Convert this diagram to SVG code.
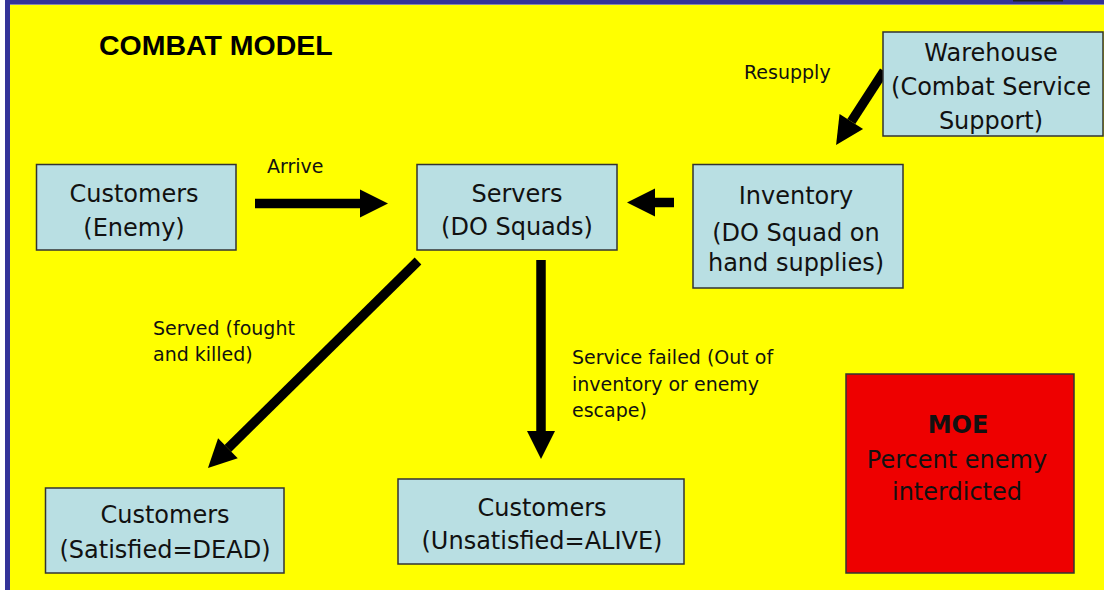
<svg xmlns="http://www.w3.org/2000/svg" width="1104" height="590" viewBox="0 0 1104 590">
  <defs>
    <style>
      .box { fill: #B9DFE3; stroke: #333333; stroke-width: 1.5; }
      .lbl { font-family: "DejaVu Sans", "Liberation Sans", sans-serif; font-size: 24px; fill: #111111; text-anchor: middle; }
      .small { font-family: "DejaVu Sans", "Liberation Sans", sans-serif; font-size: 19px; fill: #111111; }
      .title { font-family: "Liberation Sans", Arial, sans-serif; font-size: 28.5px; font-weight: bold; fill: #000000; }
      .conn { stroke: #000000; stroke-width: 9.5; fill: none; stroke-linecap: butt; marker-end: url(#head); }
    </style>
    <marker id="head" markerUnits="userSpaceOnUse" markerWidth="28" markerHeight="28" refX="0" refY="14" orient="auto" overflow="visible">
      <path d="M0,0 L28,14 L0,28 Z" fill="#000000"/>
    </marker>
  </defs>

  <!-- background and frame -->
  <rect x="0" y="0" width="1104" height="590" fill="#FFFFFF"/>
  <rect x="5" y="0" width="1099" height="590" fill="#FFFF00"/>
  <rect x="5" y="0" width="1099" height="5" fill="#333399"/>
  <rect x="5" y="0" width="5" height="590" fill="#333399"/>
  <rect x="10" y="4" width="1094" height="1" fill="#8888AA"/>
  <rect x="1013" y="0" width="50" height="1.5" fill="#222222"/>

  <text class="title" x="99" y="55">COMBAT MODEL</text>

  <!-- connectors -->
  <g id="connectors">
    <line class="conn" x1="255" y1="203.5" x2="360" y2="203.5"/>
    <line class="conn" x1="674" y1="202.5" x2="655" y2="202.5"/>
    <line class="conn" x1="884" y1="71" x2="851.3" y2="121.5"/>
    <line class="conn" x1="418" y1="261" x2="227.9" y2="448.3"/>
    <line class="conn" x1="541" y1="260" x2="541" y2="431"/>
    <text class="small" x="267" y="173">Arrive</text>
    <text class="small" x="744" y="79">Resupply</text>
    <text class="small" x="153" y="335">Served (fought</text>
    <text class="small" x="153" y="361">and killed)</text>
    <text class="small" x="572" y="364">Service failed (Out of</text>
    <text class="small" x="572" y="391">inventory or enemy</text>
    <text class="small" x="572" y="417">escape)</text>
  </g>

  <g id="customers-enemy">
    <rect class="box" x="36.5" y="164.5" width="199.5" height="85.5"/>
    <text class="lbl" x="134" y="202">Customers</text>
    <text class="lbl" x="134" y="235.5">(Enemy)</text>
  </g>

  <g id="servers">
    <rect class="box" x="417" y="164.5" width="200" height="85.5"/>
    <text class="lbl" x="517" y="202">Servers</text>
    <text class="lbl" x="517" y="235">(DO Squads)</text>
  </g>

  <g id="inventory">
    <rect class="box" x="693" y="164.5" width="210" height="123.5"/>
    <text class="lbl" x="796" y="204">Inventory</text>
    <text class="lbl" x="796" y="240.5">(DO Squad on</text>
    <text class="lbl" x="796" y="270.5">hand supplies)</text>
  </g>

  <g id="warehouse">
    <rect class="box" x="883" y="32" width="220" height="104"/>
    <text class="lbl" x="991" y="61">Warehouse</text>
    <text class="lbl" x="991" y="95">(Combat Service</text>
    <text class="lbl" x="991" y="129">Support)</text>
  </g>

  <g id="customers-dead">
    <rect class="box" x="45.5" y="488" width="238.5" height="85"/>
    <text class="lbl" x="165" y="523">Customers</text>
    <text class="lbl" x="165" y="558">(Satisfied=DEAD)</text>
  </g>

  <g id="customers-alive">
    <rect class="box" x="398" y="479" width="286" height="85"/>
    <text class="lbl" x="542" y="516">Customers</text>
    <text class="lbl" x="542" y="549">(Unsatisfied=ALIVE)</text>
  </g>

  <g id="moe">
    <rect x="846" y="374" width="228" height="199" fill="#EE0000" stroke="#333333" stroke-width="1.5"/>
    <text class="lbl" x="958" y="433" font-weight="bold" font-size="25px">MOE</text>
    <text class="lbl" x="957" y="468">Percent enemy</text>
    <text class="lbl" x="957" y="500">interdicted</text>
  </g>
</svg>
